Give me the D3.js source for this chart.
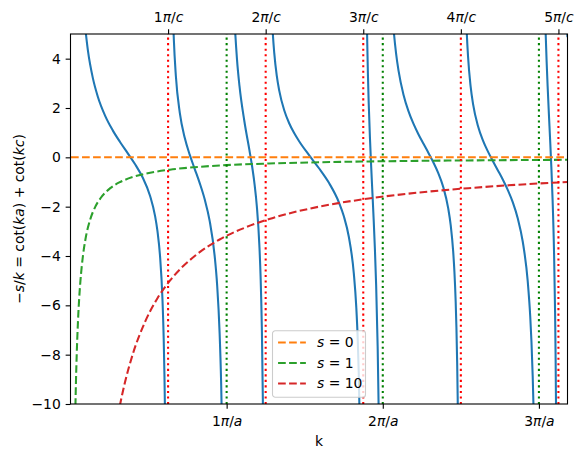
<!DOCTYPE html>
<html>
<head>
<meta charset="utf-8">
<script src="https://cdn.jsdelivr.net/npm/d3@7"></script>
<style>
  body { margin: 0; background: #ffffff; }
  svg { display: block; font-family: "DejaVu Sans", sans-serif; }
</style>
</head>
<body>
<svg id="chart" width="583" height="458"></svg>
<script>
/*
 * cot(ka) + cot(kc) against -s/k.
 */

// Axis ticks
var yTicks = [-10, -8, -6, -4, -2, 0, 2, 4];
var aTicks = [3.1416, 6.2832, 9.4248];          // n*pi/a
var aTickLabels = ['1', '2', '3'];
var cTicks = [1.9635, 3.9270, 5.8905, 7.8540, 9.8175];  // n*pi/c
var cTickLabels = ['1', '2', '3', '4', '5'];

// cot(ka) + cot(kc), one array of [k, value] per branch between poles
var branch1 = [[0.28, 5.56], [0.35, 4.335], [0.45, 3.21], [0.55, 2.458], [0.7, 1.671], [0.85, 1.093],
  [1.0, 0.613], [1.15, 0.172], [1.3, -0.281], [1.45, -0.81], [1.6, -1.555], [1.7, -2.361],
  [1.75, -2.994], [1.8, -3.967], [1.85, -5.733], [1.875, -7.332], [1.89, -8.797], [1.9, -10.155], [1.92, -14.7]];
var branch2 = [[2.0, 16.65], [2.01, 12.95], [2.02, 10.55], [2.03, 8.87], [2.05, 6.66], [2.08, 4.745],
  [2.12, 3.298], [2.2, 1.79], [2.3, 0.781], [2.4, 0.097], [2.5, -0.475], [2.6, -1.046], [2.7, -1.701],
  [2.8, -2.576], [2.9, -3.986], [2.95, -5.163], [3.0, -7.106], [3.03, -9.056], [3.05, -11.05], [3.08, -16.43]];
var branch3 = [[3.2, 16.68], [3.225, 11.48], [3.25, 8.66], [3.275, 6.869], [3.3, 5.624], [3.35, 3.971],
  [3.4, 2.893], [3.5, 1.442], [3.6, 0.292], [3.65, -0.311], [3.7, -1.031], [3.75, -2.002], [3.8, -3.562],
  [3.825, -4.843], [3.85, -6.909], [3.87, -9.81], [3.88, -12.18]];
var branch4 = [[3.97, 15.43], [4.0, 9.387], [4.03, 6.825], [4.06, 5.391], [4.1, 4.223], [4.15, 3.311],
  [4.2, 2.706], [4.3, 1.907], [4.4, 1.383], [4.5, 0.982], [4.6, 0.652], [4.8, 0.088], [5.0, -0.443],
  [5.2, -1.034], [5.4, -1.822], [5.5, -2.391], [5.6, -3.221], [5.7, -4.694], [5.75, -6.069],
  [5.78, -7.41], [5.8, -8.763], [5.82, -10.83], [5.835, -13.32], [5.85, -17.57]];
var branch5 = [[5.92, 18.5], [5.935, 11.27], [5.95, 7.58], [5.97, 4.73], [5.985, 3.309], [6.0, 2.213],
  [6.025, 0.789], [6.05, -0.378], [6.075, -1.445], [6.1, -2.526], [6.125, -3.729], [6.15, -5.195],
  [6.18, -7.656], [6.2, -10.14], [6.22, -14.09]];
var branch6 = [[6.35, 16.05], [6.4, 9.465], [6.45, 6.74], [6.5, 5.219], [6.55, 4.226], [6.6, 3.516],
  [6.7, 2.541], [6.8, 1.874], [6.9, 1.364], [7.0, 0.939], [7.1, 0.558], [7.2, 0.188], [7.3, -0.198],
  [7.4, -0.637], [7.5, -1.204], [7.6, -2.068], [7.65, -2.748], [7.7, -3.821], [7.725, -4.646],
  [7.75, -5.848], [7.765, -6.885], [7.78, -8.33], [7.79, -9.67], [7.8, -11.5], [7.82, -18.33]];
var branch7 = [[7.9, 13.52], [7.915, 10.16], [7.93, 8.107], [7.96, 5.735], [8.0, 4.056], [8.05, 2.884],
  [8.1, 2.16], [8.2, 1.258], [8.3, 0.675], [8.4, 0.23], [8.5, -0.158], [8.6, -0.53], [8.7, -0.909],
  [8.8, -1.33], [8.9, -1.829], [9.0, -2.481], [9.1, -3.421], [9.2, -5.032], [9.25, -6.443],
  [9.275, -7.474], [9.3, -8.887], [9.315, -10.04], [9.33, -11.53], [9.36, -16.52]];
var branch8 = [[9.47, 20.5], [9.5, 11.48], [9.515, 9.16], [9.53, 7.45], [9.56, 5.06], [9.58, 3.886],
  [9.6, 2.892], [9.625, 1.784], [9.65, 0.723], [9.675, -0.396], [9.7, -1.716], [9.73, -3.922],
  [9.75, -6.258], [9.76, -7.96], [9.77, -10.36], [9.79, -20.1]];
var branch9 = [[9.84, 30], [9.86, 16.83], [9.88, 12.01], [9.9, 9.474], [9.93, 7.304], [9.96, 5.997],
  [9.98, 5.37], [10.0, 4.868]];

// -s/k for s = 0, 1, 10
var sLabels = ['0', '1', '10'];
var sZero = [[0.01, 0], [10, 0]];
var sOne = [[0.095, -10.53], [0.1, -10], [0.11, -9.09], [0.125, -8], [0.15, -6.67], [0.175, -5.71],
  [0.2, -5], [0.25, -4], [0.3, -3.33], [0.4, -2.5], [0.5, -2], [0.6, -1.67], [0.8, -1.25], [1, -1],
  [1.25, -0.8], [1.5, -0.67], [2, -0.5], [2.5, -0.4], [3, -0.33], [4, -0.25], [5, -0.2], [6, -0.167],
  [7, -0.143], [8, -0.125], [9, -0.111], [10, -0.1]];
var sTen = [[0.95, -10.53], [1, -10], [1.1, -9.09], [1.25, -8], [1.5, -6.67], [1.75, -5.71], [2, -5],
  [2.5, -4], [3, -3.33], [3.5, -2.86], [4, -2.5], [5, -2], [6, -1.67], [7, -1.43], [8, -1.25],
  [9, -1.11], [10, -1]];

function mathText(sel, parts) {
  /* Fill a text element with plain and italic runs, like mathtext. */
  sel.text(null);
  parts.forEach(function(p) {
    sel.append('tspan')
      .attr('font-style', p[1] ? 'italic' : 'normal')
      .text(p[0]);
  });
}

function render() {
  'use strict';
  var svg = d3.select('#chart');
  var left = 70.5, right = 567.5, top = 34, bottom = 404;
  var fs = 13.9;

  svg.append('rect').attr('width', 583).attr('height', 458).attr('fill', '#ffffff');

  var x = d3.scaleLinear().domain([0, 10]).range([left, right]);
  var y = d3.scaleLinear().domain([-10, 5]).range([bottom, top]);

  svg.append('clipPath').attr('id', 'plotclip')
    .append('rect')
      .attr('x', left).attr('y', top)
      .attr('width', right - left).attr('height', bottom - top);

  var plot = svg.append('g').attr('clip-path', 'url(#plotclip)');

  var line = d3.line()
    .x(function(d) { return x(d[0]); })
    .y(function(d) { return y(d[1]); })
    .curve(d3.curveMonotoneX);

  // Blue curve, one path per branch
  [branch1, branch2, branch3, branch4, branch5, branch6, branch7, branch8, branch9].forEach(function(b) {
    plot.append('path')
      .attr('d', line(b))
      .attr('fill', 'none')
      .attr('stroke', '#1f77b4')
      .attr('stroke-width', 2.08);
  });

  // -s/k dashed lines
  var sSeries = [sZero, sOne, sTen];
  var sColors = ['#ff7f0e', '#2ca02c', '#d62728'];
  sSeries.forEach(function(s, i) {
    plot.append('path')
      .attr('d', line(s))
      .attr('fill', 'none')
      .attr('stroke', sColors[i])
      .attr('stroke-width', 2.08)
      .attr('stroke-dasharray', '7.7,3.33');
  });

  // Dotted verticals at the poles
  function vlines(vals, color) {
    plot.selectAll(null)
      .data(vals)
      .enter()
      .append('line')
        .attr('x1', function(d) { return x(d); })
        .attr('x2', function(d) { return x(d); })
        .attr('y1', bottom)
        .attr('y2', top)
        .attr('stroke', color)
        .attr('stroke-width', 2.08)
        .attr('stroke-dasharray', '2.08,3.44');
  }
  vlines(cTicks, '#ff0000');
  vlines(aTicks, '#008000');

  // Axes
  var tickLen = 4.86, tickPad = 4.86;

  var gy = svg.append('g')
    .attr('transform', 'translate(' + left + ',0)')
    .call(d3.axisLeft(y).tickValues(yTicks).tickSize(tickLen).tickPadding(tickPad)
      .tickSizeOuter(0).tickFormat(function(d) { return d < 0 ? '\u2212' + Math.abs(d) : d; }));

  var gb = svg.append('g')
    .attr('transform', 'translate(0,' + bottom + ')')
    .call(d3.axisBottom(x).tickValues(aTicks).tickSize(tickLen).tickPadding(tickPad).tickSizeOuter(0));
  gb.selectAll('.tick text')
    .attr('dy', '0.85em')
    .each(function(d, i) {
      mathText(d3.select(this), [[aTickLabels[i], false], ['\u03c0', true], ['/', false], ['a', true]]);
    });

  var gt = svg.append('g')
    .attr('transform', 'translate(0,' + top + ')')
    .call(d3.axisTop(x).tickValues(cTicks).tickSize(tickLen).tickPadding(tickPad).tickSizeOuter(0));
  gt.selectAll('.tick text')
    .attr('dy', '-0.15em')
    .each(function(d, i) {
      mathText(d3.select(this), [[cTickLabels[i], false], ['\u03c0', true], ['/', false], ['c', true]]);
    });

  [gy, gb, gt].forEach(function(g) {
    g.attr('font-family', '"DejaVu Sans", sans-serif').attr('font-size', fs);
    g.select('.domain').remove();
    g.selectAll('.tick line').attr('stroke', '#000000').attr('stroke-width', 1.1);
    g.selectAll('.tick text').attr('fill', '#000000');
  });

  // Frame
  svg.append('rect')
    .attr('x', left).attr('y', top)
    .attr('width', right - left).attr('height', bottom - top)
    .attr('fill', 'none')
    .attr('stroke', '#000000')
    .attr('stroke-width', 1.1);

  // Axis labels
  svg.append('text')
    .attr('x', (left + right) / 2)
    .attr('y', 445.5)
    .attr('text-anchor', 'middle')
    .attr('font-size', fs)
    .text('k');

  var ylab = svg.append('text')
    .attr('transform', 'translate(24,' + ((top + bottom) / 2) + ') rotate(-90)')
    .attr('text-anchor', 'middle')
    .attr('font-size', fs);
  mathText(ylab, [['\u2212', false], ['s', true], ['/', false], ['k', true], [' = cot(', false],
    ['ka', true], [') + cot(', false], ['kc', true], [')', false]]);

  // Legend
  var lg = svg.append('g').attr('transform', 'translate(272.5,330.7)');
  lg.append('rect')
    .attr('width', 93).attr('height', 66.6)
    .attr('rx', 2.8).attr('ry', 2.8)
    .attr('fill', '#ffffff').attr('fill-opacity', 0.8)
    .attr('stroke', '#cccccc').attr('stroke-width', 1.1);
  sLabels.forEach(function(lab, i) {
    var cy = 11.8 + i * 20.5;
    lg.append('line')
      .attr('x1', 5.56).attr('x2', 5.56 + 2 * fs)
      .attr('y1', cy).attr('y2', cy)
      .attr('stroke', sColors[i])
      .attr('stroke-width', 2.08)
      .attr('stroke-dasharray', '7.7,3.33');
    var t = lg.append('text')
      .attr('x', 5.56 + 2.8 * fs)
      .attr('y', cy + 4.9)
      .attr('font-size', fs);
    mathText(t, [['s', true], [' = ' + lab, false]]);
  });
}

render();
</script>
</body>
</html>
